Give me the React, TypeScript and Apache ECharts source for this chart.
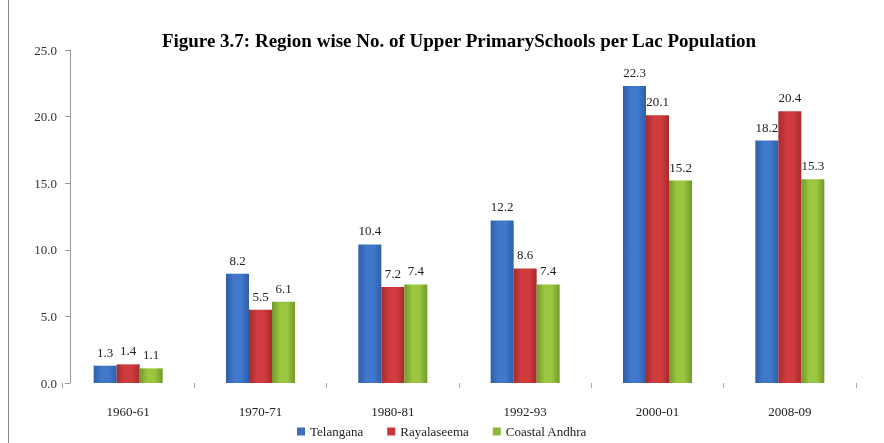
import React, { useEffect, useRef } from "react";
import * as echarts from "echarts";

const categories = ["1960-61", "1970-71", "1980-81", "1992-93", "2000-01", "2008-09"];
const seriesNames = ["Telangana", "Rayalaseema", "Coastal Andhra"];
const telangana = [1.3, 8.2, 10.4, 12.2, 22.3, 18.2];
const rayalaseema = [1.4, 5.5, 7.2, 8.6, 20.1, 20.4];
const coastalAndhra = [1.1, 6.1, 7.4, 7.4, 15.2, 15.3];
const titleText = "Figure 3.7: Region wise No. of Upper PrimarySchools per Lac Population";

const FONT = "Liberation Serif";

function grad(edge: string, mid: string) {
  return new echarts.graphic.LinearGradient(0, 0, 1, 0, [
    { offset: 0, color: edge },
    { offset: 0.35, color: mid },
    { offset: 0.65, color: mid },
    { offset: 1, color: edge },
  ]);
}

export default function App() {
  const ref = useRef<HTMLDivElement>(null);
  useEffect(() => {
    if (!ref.current) return;
    const chart = echarts.init(ref.current, undefined, { renderer: "svg" });
    const colors = [
      grad("#2f5ea8", "#4079cc"),
      grad("#a82a2c", "#d03c3e"),
      grad("#6f9a2a", "#9cc640"),
    ];
    const legendColors = ["#3a6fc2", "#c83739", "#8ab93a"];
    const datas = [telangana, rayalaseema, coastalAndhra];
    chart.setOption({
      animation: false,
      title: {
        text: titleText,
        left: 454,
        textAlign: "center",
        top: 26,
        textStyle: { fontFamily: FONT, fontWeight: "bold", fontSize: 19, color: "#000" },
      },
      legend: {
        bottom: 0,
        left: 292,
        itemWidth: 8,
        itemHeight: 8,
        itemGap: 24,
        icon: "rect",
        textStyle: { fontFamily: FONT, fontSize: 13, color: "#222" },
        data: seriesNames.map((n, i) => ({ name: n, itemStyle: { color: legendColors[i] } })),
      },
      grid: { left: 62, right: 28, top: 50, bottom: 60 },
      xAxis: {
        type: "category",
        data: categories,
        axisLine: { show: false },
        axisTick: { show: true, length: 5, lineStyle: { color: "#aaa" } },
        axisLabel: { fontFamily: FONT, fontSize: 13, color: "#222", margin: 22 },
      },
      yAxis: {
        type: "value",
        min: 0,
        max: 25,
        interval: 5,
        offset: -8,
        splitLine: { show: false },
        axisLine: { show: true, lineStyle: { color: "#999" } },
        axisTick: { show: true, length: 5, lineStyle: { color: "#999" } },
        axisLabel: {
          fontFamily: FONT,
          fontSize: 13,
          color: "#333",
          margin: 13,
          formatter: (v: number) => v.toFixed(1),
        },
      },
      graphic: [
        {
          type: "line",
          shape: { x1: 8.5, y1: 0, x2: 8.5, y2: 443 },
          style: { stroke: "#888", lineWidth: 1 },
        },
      ],
      series: seriesNames.map((n, i) => ({
        name: n,
        type: "bar",
        data: datas[i],
        barWidth: 23,
        barGap: "0%",
        itemStyle: { color: colors[i] },
        label: {
          show: true,
          position: "top",
          distance: 7,
          fontFamily: FONT,
          fontSize: 13,
          color: "#222",
          formatter: (p: any) => Number(p.value).toFixed(1),
        },
      })),
    });
    return () => chart.dispose();
  }, []);
  return (
    <div
      ref={ref}
      style={{ position: "fixed", left: 0, top: 0, width: 884, height: 443 }}
    />
  );
}
